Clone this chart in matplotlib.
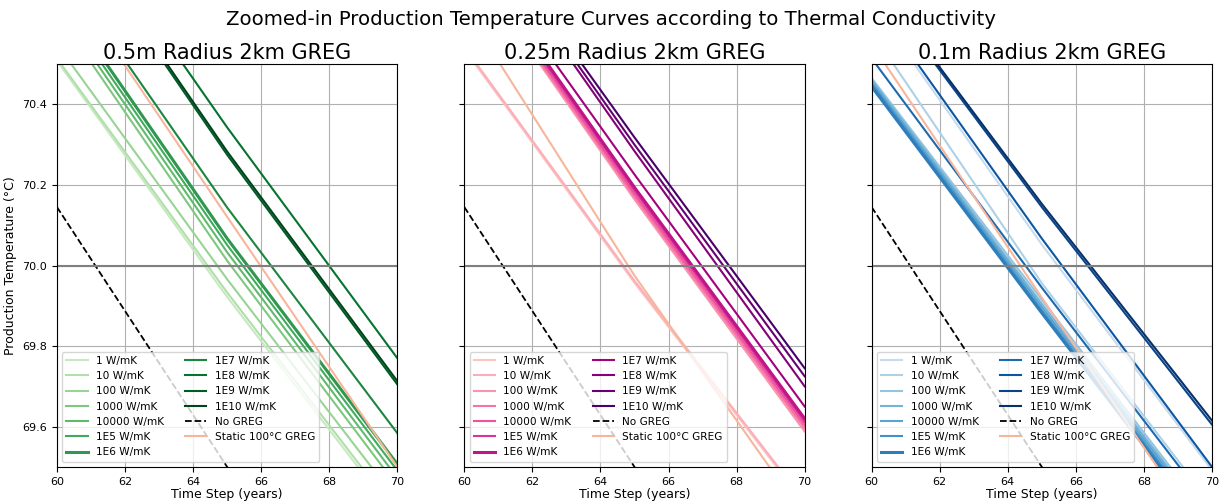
import numpy as np
import matplotlib
matplotlib.use("Agg")
import matplotlib.pyplot as plt

# time samples (years) at which curve values were read
years = [60, 65, 70]

labels = ["1 W/mK", "10 W/mK", "100 W/mK", "1000 W/mK", "10000 W/mK",
          "1E5 W/mK", "1E6 W/mK", "1E7 W/mK", "1E8 W/mK", "1E9 W/mK", "1E10 W/mK"]

# production temperature (°C) at years 60, 65, 70 for each conductivity
temps_05m = [
    [70.508, 69.922, 69.373],
    [70.514, 69.933, 69.384],
    [70.549, 69.966, 69.416],
    [70.627, 70.012, 69.452],
    [70.645, 70.033, 69.473],
    [70.662, 70.051, 69.491],
    [70.678, 70.067, 69.507],
    [70.752, 70.144, 69.584],
    [70.948, 70.343, 69.770],
    [70.890, 70.275, 69.705],
    [70.898, 70.283, 69.713],
]
temps_025m = [
    [70.537, 69.957, 69.410],
    [70.542, 69.962, 69.415],
    [70.768, 70.164, 69.588],
    [70.774, 70.171, 69.596],
    [70.780, 70.178, 69.604],
    [70.787, 70.186, 69.612],
    [70.794, 70.194, 69.620],
    [70.818, 70.226, 69.650],
    [70.886, 70.284, 69.700],
    [70.896, 70.300, 69.725],
    [70.908, 70.318, 69.745],
]
temps_01m = [
    [70.650, 70.052, 69.492],
    [70.580, 69.956, 69.406],
    [70.465, 69.915, 69.365],
    [70.460, 69.905, 69.357],
    [70.455, 69.897, 69.350],
    [70.450, 69.889, 69.342],
    [70.444, 69.882, 69.333],
    [70.514, 69.945, 69.395],
    [70.661, 70.067, 69.500],
    [70.712, 70.145, 69.605],
    [70.718, 70.153, 69.615],
]

no_greg = [70.145, 69.500, 68.860]
static_05m = [70.746, 70.121, 69.500]
static_025m = [70.640, 69.975, 69.376]
static_01m = [70.550, 69.920, 69.300]

panels = [
    ("0.5m Radius 2km GREG", temps_05m, static_05m, plt.cm.Greens),
    ("0.25m Radius 2km GREG", temps_025m, static_025m, plt.cm.RdPu),
    ("0.1m Radius 2km GREG", temps_01m, static_01m, plt.cm.Blues),
]

fig, axes = plt.subplots(1, 3, figsize=(12.23, 5.01), dpi=100, sharey=True)
fig.subplots_adjust(left=0.0466, right=0.991, top=0.872, bottom=0.068, wspace=0.197)

for ax, (title, temps, static, cmap) in zip(axes, panels):
    colors = cmap(np.linspace(0.25, 1.0, len(labels)))
    for lab, vals, col in zip(labels, temps, colors):
        lw = 2.2 if lab == "1E6 W/mK" else 1.5
        ax.plot(years, vals, color=col, linewidth=lw, label=lab)
    ax.plot(years, no_greg, "k--", linewidth=1.3, label="No GREG")
    ax.plot(years, static, color="#f7b69c", linewidth=1.5, label="Static 100°C GREG")
    ax.axhline(70.0, color="gray", linewidth=1.5)
    ax.set_xlim(60, 70)
    ax.set_ylim(69.5, 70.5)
    ax.set_xticks([60, 62, 64, 66, 68, 70])
    ax.set_yticks([69.6, 69.8, 70.0, 70.2, 70.4])
    ax.tick_params(labelsize=8)
    ax.grid(True)
    ax.set_title(title, fontsize=15, pad=4)
    ax.set_xlabel("Time Step (years)", fontsize=9, labelpad=1)
    ax.legend(ncol=2, loc="lower left", fontsize=7.6)

axes[0].set_ylabel("Production Temperature (°C)", fontsize=9)
fig.suptitle("Zoomed-in Production Temperature Curves according to Thermal Conductivity",
             fontsize=14.2, y=0.98)

fig.savefig("out.png", dpi=100)
